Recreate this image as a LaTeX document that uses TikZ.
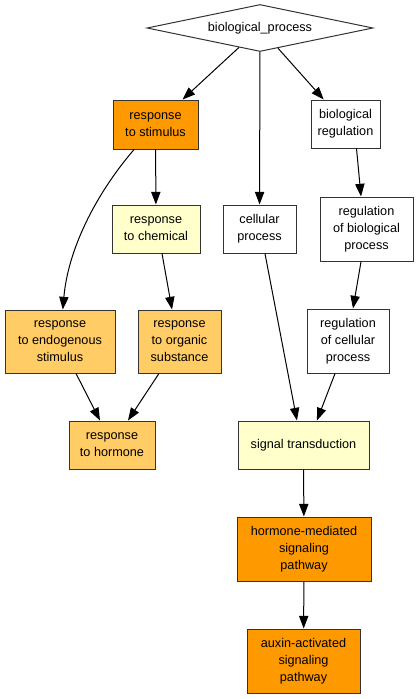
\documentclass[tikz,border=0pt]{standalone}
\usepackage{xcolor}
\usepackage{fontspec}
\setmainfont{Liberation Sans}
\usepackage{tikz}
\usetikzlibrary{arrows.meta,shapes.geometric}
\tikzset{>={Triangle[length=9.5pt,width=7pt]}}
\definecolor{goorange}{HTML}{FF9900}
\definecolor{golight}{HTML}{FFFFCC}
\definecolor{gomid}{HTML}{FFCC66}

\begin{document}
\begin{tikzpicture}[x=0.75pt,y=-0.75pt,
    term/.style={draw=black!80,line width=0.75pt,rectangle,align=center,inner sep=0pt,
      font=\fontsize{9.5}{12.75}\selectfont},
    link/.style={->,line width=0.75pt,black}]
\useasboundingbox (0,0) rectangle (419,699);
    \node[draw=black!80,line width=0.75pt,diamond,aspect=4.8,inner sep=0pt,
      minimum width=169.5pt,minimum height=35.25pt,
      font=\fontsize{9.5}{12.75}\selectfont] (root) at (260,28) {biological\_process};
    \node[term,fill=goorange,minimum width=63.75pt,minimum height=36.75pt] (stim) at (155.5,124.5) {response\\to stimulus};
    \node[term,fill=white,minimum width=51.75pt,minimum height=36pt] (bioreg) at (345.5,124) {biological\\regulation};
    \node[term,fill=golight,minimum width=66pt,minimum height=36pt] (chem) at (156,229) {response\\to chemical};
    \node[term,fill=white,minimum width=54.75pt,minimum height=36pt] (cell) at (259.5,229) {cellular\\process};
    \node[term,fill=white,minimum width=69.75pt,minimum height=48pt] (regbio) at (366.5,229) {regulation\\of biological\\process};
    \node[term,fill=white,minimum width=61.5pt,minimum height=48pt] (regcell) at (348,341) {regulation\\of cellular\\process};
    \node[term,fill=gomid,minimum width=82.5pt,minimum height=47.25pt] (endo) at (60,341.5) {response\\to endogenous\\stimulus};
    \node[term,fill=gomid,minimum width=62.25pt,minimum height=47.25pt] (organic) at (179.5,341.5) {response\\to organic\\substance};
    \node[term,fill=gomid,minimum width=64.5pt,minimum height=36pt] (hormone) at (112,445) {response\\to hormone};
    \node[term,fill=golight,minimum width=98.25pt,minimum height=36pt] (signal) at (303.5,445) {signal transduction};
    \node[term,fill=goorange,minimum width=100.5pt,minimum height=48pt] (hmed) at (304,549) {hormone-mediated\\signaling\\pathway};
    \node[term,fill=goorange,minimum width=84.75pt,minimum height=48pt] (auxin) at (303.5,661) {auxin-activated\\signaling\\pathway};
    \draw[link] (root) -- (stim);
    \draw[link] (root) -- (bioreg);
    \draw[link] (root) -- (cell);
    \draw[link] (stim) -- (chem);
    \draw[link] (stim) .. controls (95,195) and (68,250) .. (endo);
    \draw[link] ([xshift=8.25pt]bioreg.south) -- ([xshift=-4.1pt]regbio.north);
    \draw[link] ([xshift=-4.1pt]regbio.south) -- ([xshift=3.75pt]regcell.north);
    \draw[link] ([xshift=4.5pt]chem.south) -- ([xshift=-5.6pt]organic.north);
    \draw[link] ([xshift=4.1pt]cell.south) -- ([xshift=-4.9pt]signal.north);
    \draw[link] ([xshift=-9.75pt]regcell.south) -- ([xshift=10.1pt]signal.north);
    \draw[link] ([xshift=12pt]endo.south) -- ([xshift=-9pt]hormone.north);
    \draw[link] ([xshift=-15.4pt]organic.south) -- ([xshift=12pt]hormone.north);
    \draw[link] (signal) -- (hmed);
    \draw[link] (hmed) -- (auxin);
\end{tikzpicture}
\end{document}
